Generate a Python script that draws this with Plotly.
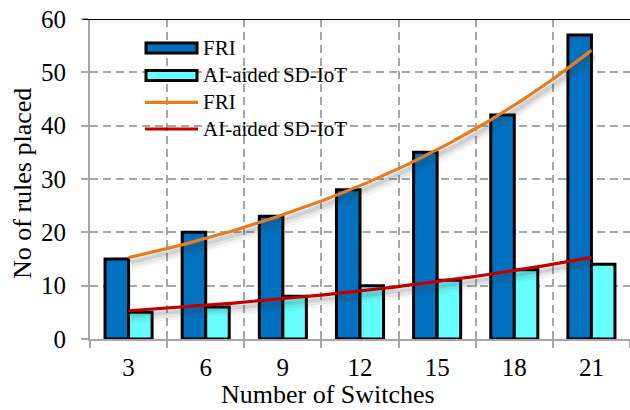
import numpy as np
import plotly.graph_objects as go

# ---- data ----
switches = [3, 6, 9, 12, 15, 18, 21]
fri_rules = [15, 20, 23, 28, 35, 42, 57]
ai_rules = [5, 6, 8, 10, 11, 13, 14]
y_ticks = [0, 10, 20, 30, 40, 50, 60]
series_names = ["FRI", "AI-aided SD-IoT"]

FONT = "Liberation Serif"
BLUE = "#0070C0"
CYAN = "#66FFFF"
ORANGE = "#E97A1E"
RED = "#C00000"
GRID = "#A6A6A6"

W, H = 630, 410
L, R, T, B = 90, 0, 19, 71
PLOT_H = H - T - B
Y_MAX = 60


def exp_trend(values, n=160):
    """Exponential least-squares trend over the category positions."""
    idx = np.arange(len(values))
    b, a = np.polyfit(idx, np.log(values), 1)
    xs = np.linspace(0, len(values) - 1, n)
    return xs, np.exp(a + b * xs)


cats = [str(s) for s in switches]
fig = go.Figure()

fig.add_trace(go.Bar(
    x=cats, y=fri_rules, name=series_names[0],
    marker=dict(color=BLUE, line=dict(color="black", width=3)),
    showlegend=False,
))
fig.add_trace(go.Bar(
    x=cats, y=ai_rules, name=series_names[1],
    marker=dict(color=CYAN, line=dict(color="black", width=3)),
    showlegend=False,
))

# trend lines with a soft drop shadow
units_per_px = Y_MAX / PLOT_H
for values, color, name in [(fri_rules, ORANGE, series_names[0]),
                            (ai_rules, RED, series_names[1])]:
    xs, ys = exp_trend(values)
    for off, width, alpha in [(8, 9, 0.06), (6, 7, 0.08), (4, 5, 0.12)]:
        fig.add_trace(go.Scatter(
            x=xs + 0.03, y=ys - off * units_per_px, xaxis="x2", mode="lines",
            line=dict(color=f"rgba(60,60,60,{alpha})", width=width),
            hoverinfo="skip", showlegend=False,
        ))
    fig.add_trace(go.Scatter(
        x=xs, y=ys, xaxis="x2", mode="lines", name=name,
        line=dict(color=color, width=3.2), showlegend=False,
    ))

# ---- legend drawn in the upper-left of the plot area ----
def px_x(px):
    return (px - L) / (W - L - R)


def px_y(py):
    return (H - B - py) / PLOT_H


shapes = []
annotations = []
legend_rows = [
    ("rect", BLUE, series_names[0], 48),
    ("rect", CYAN, series_names[1], 75.5),
    ("line", ORANGE, series_names[0], 102.3),
    ("line", RED, series_names[1], 129),
]
for kind, color, label, cy in legend_rows:
    if kind == "rect":
        shapes.append(dict(
            type="rect", xref="paper", yref="paper",
            x0=px_x(146), x1=px_x(197), y0=px_y(cy + 5), y1=px_y(cy - 5),
            fillcolor=color, line=dict(color="black", width=3), layer="above",
        ))
    else:
        shapes.append(dict(
            type="line", xref="paper", yref="paper",
            x0=px_x(145), x1=px_x(198), y0=px_y(cy), y1=px_y(cy),
            line=dict(color=color, width=3.2), layer="above",
        ))
    annotations.append(dict(
        text=label, xref="paper", yref="paper", x=px_x(201), y=px_y(cy),
        xanchor="left", yanchor="middle", showarrow=False,
        font=dict(family=FONT, size=21, color="black"),
    ))

# solid top border line at the maximum of the value axis
shapes.append(dict(
    type="line", xref="paper", yref="y", x0=px_x(83), x1=1, y0=Y_MAX, y1=Y_MAX,
    line=dict(color="black", width=2), layer="above",
))

# axis titles
annotations.append(dict(
    text="Number of Switches", xref="paper", yref="paper",
    x=px_x(328), y=px_y(394), xanchor="center", yanchor="middle",
    showarrow=False, font=dict(family=FONT, size=26, color="black"),
))
annotations.append(dict(
    text="No of rules placed", xref="paper", yref="paper",
    x=px_x(22), y=px_y(184), xanchor="center", yanchor="middle", textangle=-90,
    showarrow=False, font=dict(family=FONT, size=26, color="black"),
))

fig.update_layout(
    width=W, height=H,
    margin=dict(l=L, r=R, t=T, b=B),
    paper_bgcolor="white", plot_bgcolor="white",
    barmode="group", bargap=0.39, bargroupgap=0,
    font=dict(family=FONT, size=25, color="black"),
    shapes=shapes, annotations=annotations,
    xaxis=dict(
        type="category", tickson="boundaries",
        showgrid=True, gridcolor=GRID, gridwidth=2, griddash="8px,5px",
        showline=True, linecolor=GRID, linewidth=2,
        ticks="outside", ticklen=7, tickcolor=GRID, tickwidth=2,
        ticklabelstandoff=5,
        tickfont=dict(family=FONT, size=25, color="black"),
    ),
    xaxis2=dict(
        overlaying="x", range=[-0.5, len(switches) - 0.5], visible=False,
    ),
    yaxis=dict(
        range=[0, Y_MAX], tickvals=y_ticks,
        showgrid=True, gridcolor=GRID, gridwidth=2, griddash="8px,5px",
        zeroline=False, showline=True, linecolor=GRID, linewidth=2,
        ticks="outside", ticklen=7, tickcolor=GRID, tickwidth=2,
        ticklabelstandoff=10,
        tickfont=dict(family=FONT, size=25, color="black"),
    ),
    yaxis2=dict(
        overlaying="y", range=[0, Y_MAX], tickvals=y_ticks,
        showgrid=False, zeroline=False, showticklabels=False,
        ticks="inside", ticklen=7, tickcolor=GRID, tickwidth=2,
        side="left",
    ),
)

fig.write_html("out.html")
